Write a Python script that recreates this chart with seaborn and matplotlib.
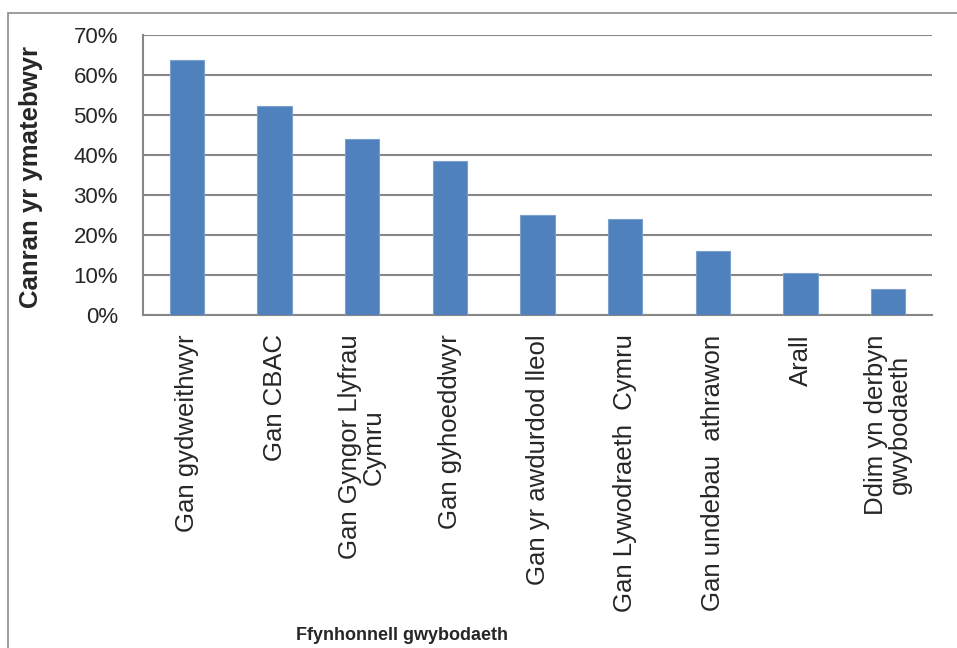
import numpy as np
import pandas as pd
import matplotlib
matplotlib.use('Agg')
import matplotlib.pyplot as plt
import seaborn as sns
from matplotlib.patches import Rectangle
from matplotlib.ticker import FuncFormatter

# data
categories = ['Gan gydweithwyr', 'Gan CBAC', 'Gan Gyngor Llyfrau\nCymru',
              'Gan gyhoeddwyr', 'Gan yr awdurdod lleol', 'Gan Lywodraeth  Cymru',
              'Gan undebau  athrawon', 'Arall', 'Ddim yn derbyn\ngwybodaeth']
percent = [63.8, 52.3, 43.9, 38.4, 24.9, 23.9, 16.0, 10.5, 6.6]

df = pd.DataFrame({'source': categories, 'pct': percent})

sns.set_style('white')
plt.rcParams['font.family'] = ['Liberation Sans', 'DejaVu Sans']

fig = plt.figure(figsize=(9.57, 6.48), dpi=100)
ax = fig.add_axes([143/957, 1 - 315/648, (932 - 143)/957, (315 - 35)/648])

grid_col = '#868686'
sns.barplot(data=df, x='source', y='pct', color='#4F81BD', saturation=1,
            width=0.39, edgecolor='#7BA0CD', linewidth=0.8, ax=ax, zorder=3)

ax.set_ylim(0, 70)
ax.set_xlim(-0.5, len(categories) - 0.5)
ax.set_yticks(range(0, 71, 10))
ax.yaxis.set_major_formatter(FuncFormatter(lambda v, p: f'{int(v)}%'))
ax.yaxis.grid(True, color=grid_col, linewidth=1.5, zorder=0)
ax.set_axisbelow(True)

# category boundary ticks, Excel style
ax.set_xticks(np.arange(len(categories)))
ax.set_xticklabels(categories, rotation=90, ha='center', va='top',
                   multialignment='center', fontsize=18.5, linespacing=1.0)
ax.set_xticks(np.arange(-0.5, len(categories)), minor=True)
ax.tick_params(axis='x', which='major', length=0, pad=14)
ax.tick_params(axis='x', which='minor', length=6, color=grid_col, width=1.2)
ax.tick_params(axis='y', length=6, color=grid_col, width=1.2, labelsize=16, pad=12)

for s in ['top', 'right']:
    ax.spines[s].set_visible(False)
for s in ['left', 'bottom']:
    ax.spines[s].set_color(grid_col)
    ax.spines[s].set_linewidth(1.5)

ax.set_ylabel('')
ax.set_xlabel('')
fig.text(31/957, 1 - 177/648, 'Canran yr ymatebwyr', rotation=90,
         ha='center', va='center', fontsize=18.5, fontweight='bold')
fig.text(402/957, 1 - 635/648, 'Ffynhonnell gwybodaeth',
         ha='center', va='center', fontsize=13, fontweight='bold')

# outer chart frame
fig.patches.append(Rectangle((8/957, -0.05), 1.1, 1 - 13/648 + 0.05,
                             transform=fig.transFigure, fill=False,
                             edgecolor='#8C8C8C', linewidth=1.2))

fig.savefig('out.png', dpi=100)
